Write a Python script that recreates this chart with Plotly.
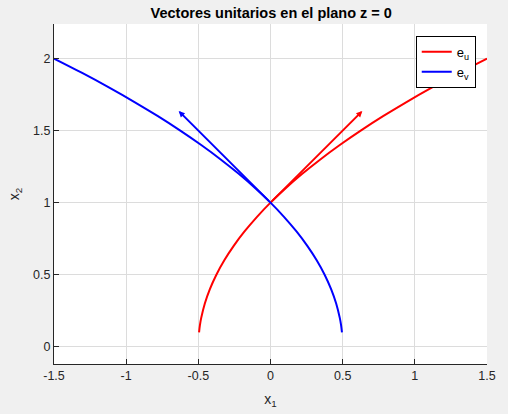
import plotly.graph_objects as go

# Coordinate curves
y_curve = [0.1, 0.15, 0.2, 0.3, 0.4, 0.5, 0.6, 0.7, 0.8, 0.9, 1.0, 1.1, 1.2, 1.3, 1.4, 1.5, 1.6, 1.7, 1.8, 1.9, 2.0]
x_eu = [-0.495, -0.489, -0.48, -0.455, -0.42, -0.375, -0.32, -0.255, -0.18, -0.095, 0.0,
        0.105, 0.22, 0.345, 0.48, 0.625, 0.78, 0.945, 1.12, 1.305, 1.5]
x_ev = [0.495, 0.489, 0.48, 0.455, 0.42, 0.375, 0.32, 0.255, 0.18, 0.095, 0.0,
        -0.105, -0.22, -0.345, -0.48, -0.625, -0.78, -0.945, -1.12, -1.305, -1.5]

# Unit vectors drawn at the point (0, 1)
origin = (0.0, 1.0)
vec_eu = (0.636, 0.636)
vec_ev = (-0.636, 0.636)

x_ticks = [-1.5, -1, -0.5, 0, 0.5, 1, 1.5]
x_ticklabels = ["-1.5", "-1", "-0.5", "0", "0.5", "1", "1.5"]
y_ticks = [0, 0.5, 1, 1.5, 2]
y_ticklabels = ["0", "0.5", "1", "1.5", "2"]

RED = "#FF0000"
BLUE = "#0000FF"
TXT = "#262626"
FONT = "Liberation Sans, Arial"

fig = go.Figure()
fig.add_trace(go.Scatter(x=x_eu, y=y_curve, mode="lines", name="e<sub>u</sub>",
                         line=dict(color=RED, width=2, shape="spline")))
fig.add_trace(go.Scatter(x=x_ev, y=y_curve, mode="lines", name="e<sub>v</sub>",
                         line=dict(color=BLUE, width=2, shape="spline")))

for vec, col in [(vec_eu, RED), (vec_ev, BLUE)]:
    fig.add_annotation(x=origin[0] + vec[0], y=origin[1] + vec[1],
                       ax=origin[0], ay=origin[1], xref="x", yref="y",
                       axref="x", ayref="y", showarrow=True, text="",
                       arrowhead=2, arrowsize=0.6, arrowwidth=2, arrowcolor=col,
                       standoff=0, startstandoff=0)

axis_common = dict(showgrid=True, gridcolor="#DCDCDC", gridwidth=1, zeroline=False,
                   showline=True, linecolor=TXT, linewidth=1, mirror=False,
                   ticks="inside", ticklen=5, tickcolor=TXT, automargin=False,
                   tickfont=dict(family=FONT, size=12.5, color=TXT))

fig.update_layout(
    width=508, height=414,
    paper_bgcolor="#F0F0F0", plot_bgcolor="#FFFFFF",
    margin=dict(l=54, r=21, t=24, b=50),
    title=dict(text="<b>Vectores unitarios en el plano z = 0</b>", x=0.534, xanchor="center",
               y=0.969, yanchor="middle",
               font=dict(family=FONT, size=14.5, color="#000000")),
    xaxis=dict(range=[-1.5, 1.5], tickvals=x_ticks, ticktext=x_ticklabels,
               title=dict(text="x<sub>1</sub>", standoff=12,
                          font=dict(family=FONT, size=14, color=TXT)),
               **axis_common),
    yaxis=dict(range=[-0.12, 2.24], tickvals=y_ticks, ticktext=y_ticklabels,
               title=dict(text="x<sub>2</sub>", standoff=10,
                          font=dict(family=FONT, size=14, color=TXT)),
               **axis_common),
    legend=dict(x=0.974, y=0.965, xanchor="right", yanchor="top",
                bgcolor="#FFFFFF", bordercolor="#000000", borderwidth=1,
                itemwidth=30, tracegroupgap=0,
                font=dict(family=FONT, size=13, color="#000000")),
    showlegend=True,
)

fig.write_html("out.html", config={"displayModeBar": False},
               post_script="document.body.style.margin='0';document.body.style.background='#F0F0F0';")
